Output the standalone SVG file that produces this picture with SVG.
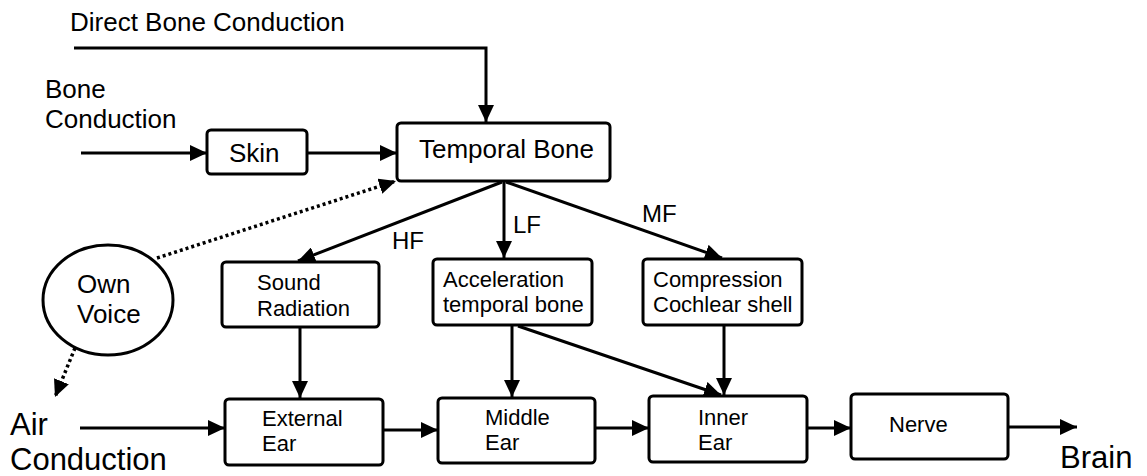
<svg xmlns="http://www.w3.org/2000/svg" width="1147" height="476" viewBox="0 0 1147 476">
  <style>
    .box { fill: #ffffff; stroke: #000000; stroke-width: 3; }
    .t { font-family: "Liberation Sans", Arial, sans-serif; fill: #000000; }
    .big { font-size: 26px; }
    .mid { font-size: 22px; }
    .lbl { font-size: 24px; }
    .huge { font-size: 31px; }
    .edge { fill: none; stroke: #000000; stroke-width: 3; marker-end: url(#arrow); }
    .dot { stroke-dasharray: 3 3; stroke-width: 3.5; }
  </style>
  <defs>
    <marker id="arrow" markerUnits="userSpaceOnUse" markerWidth="18" markerHeight="16" refX="17" refY="8" orient="auto">
      <path d="M0,0 L17,8 L0,16 Z" fill="#000000"/>
    </marker>
  </defs>
  <rect width="1147" height="476" fill="#ffffff"/>

  <!-- free-standing labels -->
  <g id="labels">
    <text class="t big" x="70" y="31">Direct Bone Conduction</text>
    <text class="t big" x="45" y="98">Bone</text>
    <text class="t big" x="45" y="128">Conduction</text>
    <text class="t huge" x="10" y="435">Air</text>
    <text class="t huge" x="10" y="470">Conduction</text>
    <text class="t huge" x="1060" y="468">Brain</text>
    <text class="t lbl" x="392" y="249">HF</text>
    <text class="t lbl" x="513" y="233">LF</text>
    <text class="t lbl" x="642" y="222">MF</text>
  </g>

  <!-- connectors -->
  <g id="connectors">
    <path class="edge" d="M74,48 H486 V122"/>
    <path class="edge" d="M81,153 H207"/>
    <path class="edge" d="M307,153 H397"/>
    <path class="edge dot" d="M157,258 L396,181"/>
    <path class="edge dot" d="M75,348 L55,397"/>
    <path class="edge" d="M80,428 H225"/>
    <path class="edge" d="M502,182 L298,261"/>
    <path class="edge" d="M504,182 V258"/>
    <path class="edge" d="M506,182 L722,258"/>
    <path class="edge" d="M300,327 V398"/>
    <path class="edge" d="M512,325 V397"/>
    <path class="edge" d="M518,326 L721,395"/>
    <path class="edge" d="M724,325 V395"/>
    <path class="edge" d="M383,430 H438"/>
    <path class="edge" d="M595,428 H649"/>
    <path class="edge" d="M807,428 H851"/>
    <path class="edge" d="M1008,427 H1077"/>
  </g>

  <g id="skin">
    <rect class="box" x="207" y="130" width="100" height="44" rx="4"/>
    <text class="t big" x="229" y="162">Skin</text>
  </g>

  <g id="temporal-bone">
    <rect class="box" x="397" y="123" width="213" height="58" rx="4"/>
    <text class="t big" x="419" y="158">Temporal Bone</text>
  </g>

  <g id="own-voice">
    <ellipse class="box" cx="108" cy="300" rx="65" ry="55"/>
    <text class="t big" x="77" y="293">Own</text>
    <text class="t big" x="77" y="323">Voice</text>
  </g>

  <g id="sound-radiation">
    <rect class="box" x="222" y="262" width="157" height="65" rx="4"/>
    <text class="t mid" x="257" y="290">Sound</text>
    <text class="t mid" x="257" y="316">Radiation</text>
  </g>

  <g id="acceleration">
    <rect class="box" x="433" y="259" width="159" height="66" rx="4"/>
    <text class="t mid" x="443" y="287">Acceleration</text>
    <text class="t mid" x="443" y="312">temporal bone</text>
  </g>

  <g id="compression">
    <rect class="box" x="643" y="259" width="159" height="66" rx="4"/>
    <text class="t mid" x="653" y="287">Compression</text>
    <text class="t mid" x="653" y="312">Cochlear shell</text>
  </g>

  <g id="external-ear">
    <rect class="box" x="225" y="399" width="158" height="66" rx="4"/>
    <text class="t mid" x="262" y="426">External</text>
    <text class="t mid" x="262" y="451">Ear</text>
  </g>

  <g id="middle-ear">
    <rect class="box" x="438" y="398" width="157" height="65" rx="4"/>
    <text class="t mid" x="485" y="425">Middle</text>
    <text class="t mid" x="485" y="450">Ear</text>
  </g>

  <g id="inner-ear">
    <rect class="box" x="649" y="396" width="158" height="66" rx="4"/>
    <text class="t mid" x="698" y="425">Inner</text>
    <text class="t mid" x="698" y="450">Ear</text>
  </g>

  <g id="nerve">
    <rect class="box" x="851" y="394" width="157" height="65" rx="4"/>
    <text class="t mid" x="889" y="432">Nerve</text>
  </g>
</svg>
